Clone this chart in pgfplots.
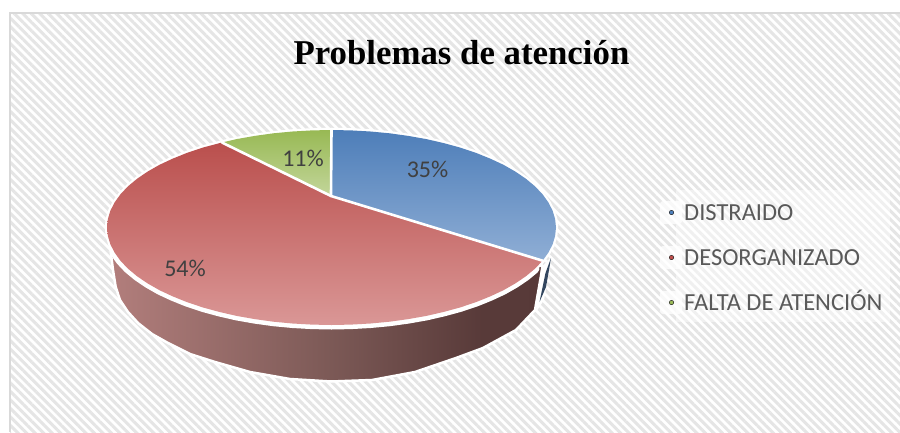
\documentclass[border=0pt]{standalone}
\usepackage{pgfplots}
\usepackage{pgfplotstable}
\usepackage{fontspec}
\pgfplotsset{compat=1.18}
\usetikzlibrary{patterns.meta}
\setmainfont{Carlito}
\newfontfamily\titlefont{Liberation Serif}[BoldFont={Liberation Serif Bold}]
\definecolor{wa}{HTML}{B27E7C}
\definecolor{wb}{HTML}{7D5A57}
\definecolor{wc}{HTML}{583A39}
\definecolor{wd}{HTML}{553736}
\pgfdeclarehorizontalshading{wallshade}{100bp}{color(0bp)=(wa); color(25bp)=(wa); color(50bp)=(wb); color(68bp)=(wc); color(100bp)=(wd)}
\pgfplotstableread{
x y
331 196
331.5 130
351.1 130.4
370.5 131.5
389.6 133.3
408.3 135.9
426.4 139.1
443.75 143.1
460.3 147.6
475.8 152.8
490.2 158.6
503.5 164.8
515.4 171.6
525.9 178.75
535 186.3
542.5 194.2
548.3 202.3
552.6 210.6
555.1 219
556 227.5
555.1 236
552.6 244.4
548.3 252.7
542.5 260.8
}\tblue
\pgfplotstableread{
x y
331 196
222 142.5
202.7 147.6
187.2 152.8
172.8 158.6
159.5 164.8
147.6 171.6
137.1 178.75
128 186.3
120.5 194.2
114.7 202.3
110.4 210.6
107.9 219
107 227.5
107.9 236
110.4 244.4
114.7 252.7
120.5 260.8
128 268.7
137.1 276.25
147.6 283.4
159.5 290.2
172.8 296.4
187.2 302.2
202.7 307.4
219.25 311.9
236.6 315.9
254.7 319.1
273.4 321.7
292.5 323.5
311.9 324.6
331.5 325
351.1 324.6
370.5 323.5
389.6 321.7
408.3 319.1
426.4 315.9
443.75 311.9
460.3 307.4
475.8 302.2
490.2 296.4
503.5 290.2
515.4 283.4
525.9 276.25
535 268.7
542.5 260.8
}\tred
\pgfplotstableread{
x y
331 196
331.5 130
311.9 130.4
292.5 131.5
273.4 133.3
254.7 135.9
236.6 139.1
222 142.5
}\tgreen
\pgfplotstableread{
x y
114.7 252.7
120.5 260.8
128 268.7
137.1 276.25
147.6 283.4
159.5 290.2
172.8 296.4
187.2 302.2
202.7 307.4
219.25 311.9
236.6 315.9
254.7 319.1
273.4 321.7
292.5 323.5
311.9 324.6
331.5 325
351.1 324.6
370.5 323.5
389.6 321.7
408.3 319.1
426.4 315.9
443.75 311.9
460.3 307.4
475.8 302.2
490.2 296.4
503.5 290.2
515.4 283.4
525.9 276.25
535 268.7
}\trim
\pgfplotstableread{
x y
110.5 250
113 270
115.7 287
120 300
128 312
138 323
152 334
168 343
190 354
215 362
250 372
290 379
331 381.5
372 380
415 372
456 358
483 348
516 330
535 310
542.7 266
}\twall
\begin{document}
\begin{tikzpicture}
\begin{axis}[
  width=900pt, height=432pt, scale only axis,
  xmin=0, xmax=900, ymin=0, ymax=432, y dir=reverse,
  hide axis, clip=true, no markers]
\fill[white] (0,0) rectangle (900,432);
\fill[pattern={Lines[angle=-45,distance=6pt,line width=3pt]}, pattern color=black!10] (10,13) rectangle (900,432);
\draw[black!15, line width=1.5pt] (10,432) -- (10,13) -- (900,13);
% legend backing
\fill[white, opacity=0.45] (676,190) rectangle (890,322);
\fill[white, opacity=0.75, rounded corners=3pt] (660,201) rectangle (682,224);
\fill[white, opacity=0.75, rounded corners=3pt] (660,246) rectangle (682,269);
\fill[white, opacity=0.75, rounded corners=3pt] (660,291) rectangle (682,314);
% side wall
\addplot[draw=white, line width=2.5pt, line join=round, shade, shading=wallshade] table {\twall} -- cycle;
\addplot[draw=none, fill=white] coordinates {(552,256) (544,300) (536,312) (541,268)} -- cycle;
\addplot[draw=none, fill={rgb,255:red,50;green,70;blue,95}] coordinates {(551,258) (545.5,273) (539.5,302) (546,287) (549,270)} -- cycle;
% white rims
\addplot[draw=white, line width=9pt, line cap=round] table {\trim};
\addplot[draw=white, line width=4.5pt, line join=round] table {\tblue} -- cycle;
\addplot[draw=white, line width=4.5pt, line join=round] table {\tred} -- cycle;
\addplot[draw=white, line width=4.5pt, line join=round] table {\tgreen} -- cycle;
% top wedges
\addplot[draw=none, shade, top color={rgb,255:red,78;green,126;blue,185}, middle color={rgb,255:red,122;green,158;blue,203}, bottom color={rgb,255:red,143;green,174;blue,213}] table {\tblue} -- cycle;
\addplot[draw=none, shade, top color={rgb,255:red,186;green,79;blue,77}, middle color={rgb,255:red,204;green,122;blue,120}, bottom color={rgb,255:red,218;green,151;blue,150}] table {\tred} -- cycle;
\addplot[draw=none, shade, top color={rgb,255:red,152;green,185;blue,84}, bottom color={rgb,255:red,195;green,214;blue,155}] table {\tgreen} -- cycle;
% dividers
\addplot[draw=white, line width=2.6pt, line cap=round, line join=round] coordinates {(331.5,130) (331,196) (543,260.8)};
\addplot[draw=white, line width=2.6pt, line cap=round] coordinates {(331,196) (222,142.5)};
% value labels
\node[text=black!75, inner sep=0] at (427.5,169) {\fontsize{24}{28}\selectfont 35\%};
\node[text=black!75, inner sep=0] at (303,158) {\fontsize{24}{28}\selectfont 11\%};
\node[text=black!75, inner sep=0] at (185,268) {\fontsize{24}{28}\selectfont 54\%};
% legend
\addplot[only marks, mark=square*, mark size=2.2pt, draw=none, mark options={draw=none, fill={rgb,255:red,79;green,129;blue,189}}] coordinates {(671.5,212.5)};
\addplot[only marks, mark=square*, mark size=2.2pt, draw=none, mark options={draw=none, fill={rgb,255:red,192;green,80;blue,77}}] coordinates {(671.5,257.5)};
\addplot[only marks, mark=square*, mark size=2.2pt, draw=none, mark options={draw=none, fill={rgb,255:red,155;green,187;blue,89}}] coordinates {(671.5,302.5)};
\node[anchor=base west, inner sep=0, text=black!65] at (684,220) {\fontsize{24.5}{29}\selectfont DISTRAIDO};
\node[anchor=base west, inner sep=0, text=black!65] at (684,265) {\fontsize{24.5}{29}\selectfont DESORGANIZADO};
\node[anchor=base west, inner sep=0, text=black!65] at (684,310) {\fontsize{24.5}{29}\selectfont FALTA DE ATENCIÓN};
% title
\node[anchor=base, inner sep=0, text=black] at (461.5,64) {\titlefont\bfseries\fontsize{34.8}{40}\selectfont Problemas de atención};
\end{axis}
\end{tikzpicture}
\end{document}
